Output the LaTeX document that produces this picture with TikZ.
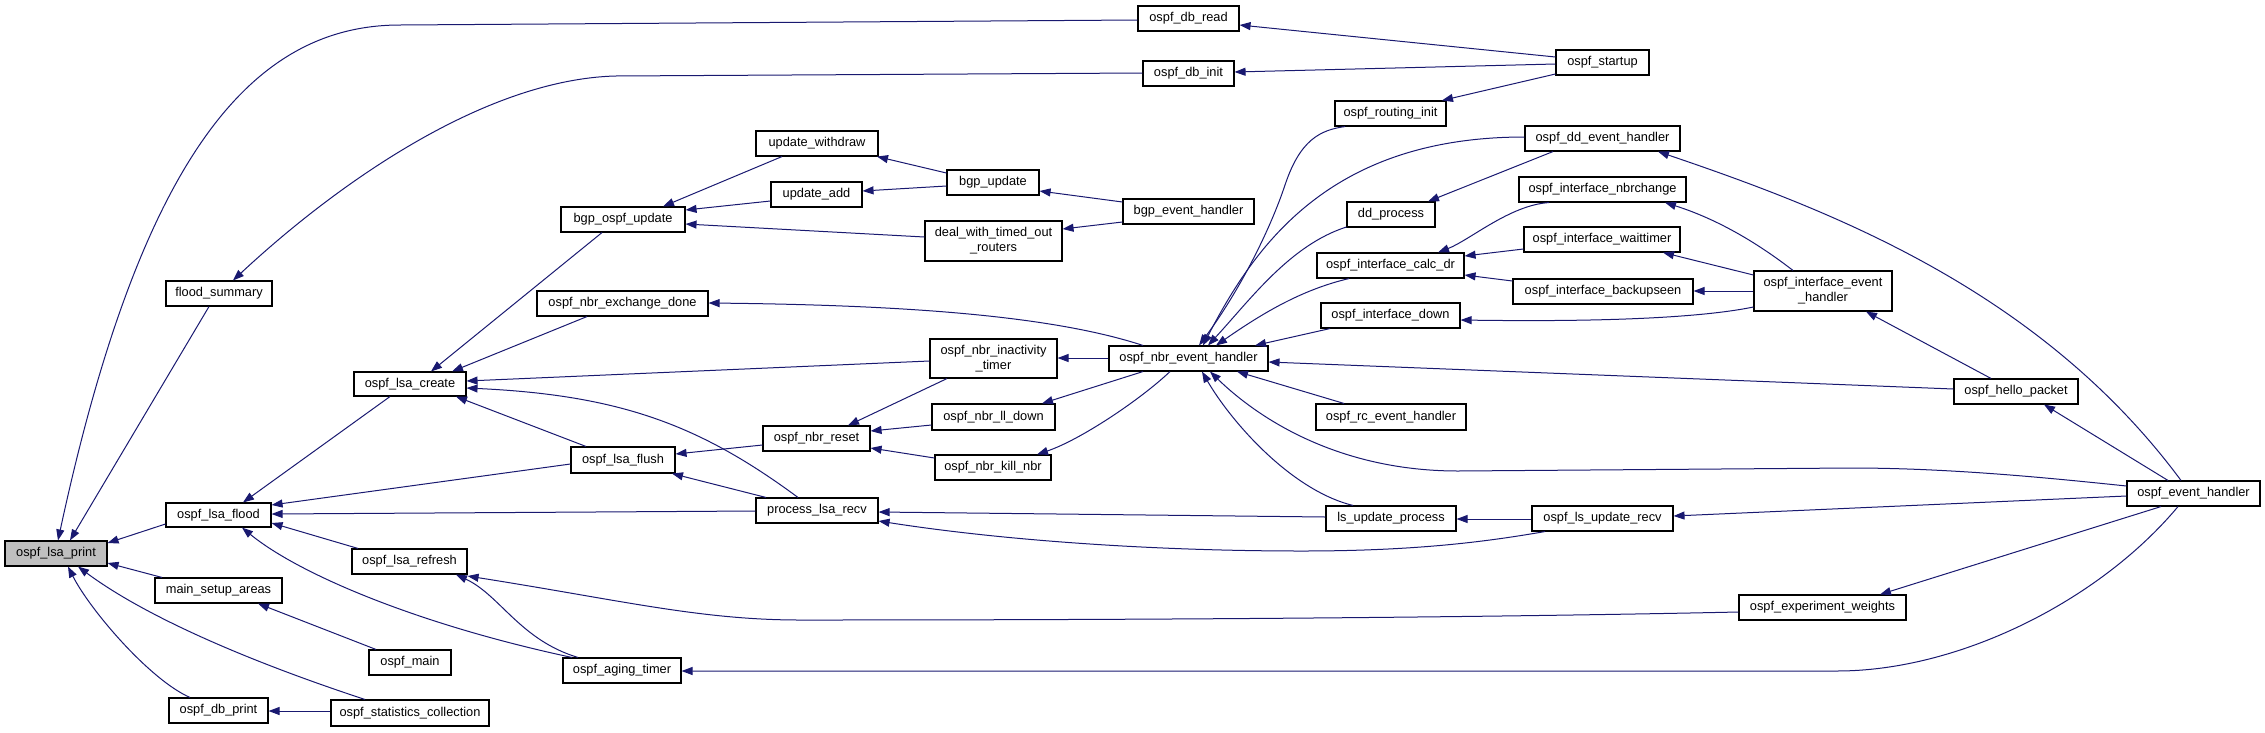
\documentclass[tikz,border=0pt]{standalone}
\usepackage{fontspec}
\setmainfont{Liberation Sans}
\usetikzlibrary{arrows.meta}
\definecolor{edgec}{RGB}{25,25,112}
\definecolor{hil}{RGB}{191,191,191}
\newcommand{\fbx}[7]{\node[fbox,#1,minimum width={(#5)-(#3)},minimum height={(#6)-(#4)}] (#2) at ({((#3)+(#5))/2},{((#4)+(#6))/2}) {#7};}
\begin{document}
\begin{tikzpicture}[x=1pt,y=-1pt,
  fbox/.style={draw=black, line width=1.1pt, fill=white, inner sep=0pt, align=center, font=\fontsize{12.8}{15}\selectfont},
  cl/.style={draw=edgec, line width=1pt, arrows={Triangle[length=11pt,width=8pt]-}}]
\useasboundingbox (0,0) rectangle (2265,732);
\fbx{fill=hil}{print}{5}{541}{107}{566}{ospf\_lsa\_print}
\fbx{}{flood}{166}{503}{271}{527}{ospf\_lsa\_flood}
\fbx{}{create}{354}{372}{466}{396}{ospf\_lsa\_create}
\fbx{}{refresh}{352}{549}{467}{574}{ospf\_lsa\_refresh}
\fbx{}{msa}{155}{578}{282}{603}{main\_setup\_areas}
\fbx{}{omain}{369}{650}{451}{675}{ospf\_main}
\fbx{}{dbprint}{169}{698}{268}{723}{ospf\_db\_print}
\fbx{}{stats}{331}{700}{489}{726}{ospf\_statistics\_collection}
\fbx{}{fsum}{166}{281}{272}{306}{flood\_summary}
\fbx{}{uwd}{756}{131}{878}{156}{update\_withdraw}
\fbx{}{bgpu}{947}{170}{1039}{195}{bgp\_update}
\fbx{}{uadd}{771}{182}{862}{207}{update\_add}
\fbx{}{bou}{561}{207}{685}{232}{bgp\_ospf\_update}
\fbx{}{deal}{925}{221}{1062}{261}{deal\_with\_timed\_out\\\_routers}
\fbx{}{nxd}{537}{291}{708}{316}{ospf\_nbr\_exchange\_done}
\fbx{}{nit}{930}{339}{1057}{378}{ospf\_nbr\_inactivity\\\_timer}
\fbx{}{dbread}{1138}{6}{1239}{31}{ospf\_db\_read}
\fbx{}{dbinit}{1143}{61}{1234}{86}{ospf\_db\_init}
\fbx{}{startup}{1556}{50}{1649}{75}{ospf\_startup}
\fbx{}{rinit}{1335}{101}{1446}{126}{ospf\_routing\_init}
\fbx{}{ddeh}{1525}{126}{1680}{151}{ospf\_dd\_event\_handler}
\fbx{}{bgpeh}{1123}{199}{1254}{224}{bgp\_event\_handler}
\fbx{}{inbr}{1519}{177}{1686}{202}{ospf\_interface\_nbrchange}
\fbx{}{ddp}{1347}{202}{1435}{227}{dd\_process}
\fbx{}{iwait}{1524}{227}{1680}{252}{ospf\_interface\_waittimer}
\fbx{}{icalc}{1317}{253}{1464}{278}{ospf\_interface\_calc\_dr}
\fbx{}{ibkp}{1513}{279}{1693}{304}{ospf\_interface\_backupseen}
\fbx{}{idown}{1321}{303}{1460}{328}{ospf\_interface\_down}
\fbx{}{neh}{1109}{346}{1268}{371}{ospf\_nbr\_event\_handler}
\fbx{}{ieh}{1754}{271}{1892}{311}{ospf\_interface\_event\\\_handler}
\fbx{}{lldown}{932}{404}{1055}{430}{ospf\_nbr\_ll\_down}
\fbx{}{reset}{763}{426}{870}{451}{ospf\_nbr\_reset}
\fbx{}{kill}{935}{455}{1051}{480}{ospf\_nbr\_kill\_nbr}
\fbx{}{flush}{571}{447}{675}{473}{ospf\_lsa\_flush}
\fbx{}{plr}{756}{498}{878}{523}{process\_lsa\_recv}
\fbx{}{aging}{563}{658}{681}{683}{ospf\_aging\_timer}
\fbx{}{rc}{1316}{404}{1466}{430}{ospf\_rc\_event\_handler}
\fbx{}{lsup}{1326}{506}{1456}{531}{ls\_update\_process}
\fbx{}{lsrecv}{1532}{506}{1673}{531}{ospf\_ls\_update\_recv}
\fbx{}{hello}{1954}{379}{2078}{404}{ospf\_hello\_packet}
\fbx{}{oeh}{2127}{481}{2260}{506}{ospf\_event\_handler}
\fbx{}{expw}{1739}{595}{1906}{620}{ospf\_experiment\_weights}
% edges (arrow tip at the callee)
\draw[cl] (print.north -| 58,0) .. controls (140,160) and (250,25) .. (400,25) -- (dbread.west |- 0,20);
\draw[cl] (print.north -| 70,0) -- (fsum.south -| 209,0);
\draw[cl] (fsum.north -| 233,0) .. controls (330,190) and (480,80) .. (615,76) -- (dbinit.west |- 0,73);
\draw[cl] (print.east |- 0,543) -- (flood.west |- 0,524);
\draw[cl] (print.east |- 0,563) -- (msa.north -| 162,0);
\draw[cl] (print.south -| 68,0) .. controls (90,610) and (150,680) .. (dbprint.north -| 190,0);
\draw[cl] (print.south -| 78,0) .. controls (150,620) and (260,665) .. (stats.north -| 365,0);
\draw[cl] (dbprint.east |- 0,711) -- (stats.west |- 0,711);
\draw[cl] (msa.south -| 258,0) -- (omain.north -| 376,0);
\draw[cl] (flood.north -| 243,0) -- (create.south -| 390,0);
\draw[cl] (flood.east |- 0,505) -- (flush.west |- 0,464);
\draw[cl] (flood.east |- 0,514) -- (plr.west |- 0,511);
\draw[cl] (flood.east |- 0,523) -- (refresh.north -| 358,0);
\draw[cl] (flood.south -| 242,0) .. controls (300,575) and (420,625) .. (aging.north -| 572,0);
\draw[cl] (refresh.south -| 456,0) .. controls (500,595) and (520,640) .. (aging.north -| 578,0);
\draw[cl] (refresh.east |- 0,576) .. controls (620,600) and (700,620) .. (800,620) .. controls (1300,620) and (1600,615) .. (expw.west |- 0,612);
\draw[cl] (create.north -| 431,0) -- (bou.south -| 602,0);
\draw[cl] (create.north -| 452,0) -- (nxd.south -| 587,0);
\draw[cl] (create.east |- 0,381) -- (nit.west |- 0,361);
\draw[cl] (create.east |- 0,388) .. controls (620,395) and (700,425) .. (plr.north -| 798,0);
\draw[cl] (create.south -| 456,0) -- (flush.north -| 586,0);
\draw[cl] (flush.east |- 0,454) -- (reset.west |- 0,445);
\draw[cl] (flush.south -| 672,0) -- (plr.north -| 766,0);
\draw[cl] (reset.north -| 848,0) -- (nit.south -| 947,0);
\draw[cl] (reset.east |- 0,431) -- (lldown.west |- 0,425);
\draw[cl] (reset.east |- 0,448) -- (kill.west |- 0,458);
\draw[cl] (plr.east |- 0,512) -- (lsup.west |- 0,517);
\draw[cl] (plr.east |- 0,521) .. controls (1000,540) and (1150,551) .. (1302,551) .. controls (1420,551) and (1490,541) .. (lsrecv.south -| 1545,0);
\draw[cl] (lsup.east |- 0,519) -- (lsrecv.west |- 0,519);
\draw[cl] (lsrecv.east |- 0,516) -- (oeh.west |- 0,496);
\draw[cl] (aging.east |- 0,671) -- (1837,671) .. controls (1960,671) and (2100,600) .. (oeh.south -| 2178,0);
\draw[cl] (expw.north -| 1880,0) -- (oeh.south -| 2161,0);
\draw[cl] (hello.south -| 2044,0) -- (oeh.north -| 2168,0);
\draw[cl] (ieh.south -| 1866,0) -- (hello.north -| 1991,0);
\draw[cl] (ddeh.south -| 1658,0) .. controls (1830,210) and (2040,290) .. (oeh.north -| 2181,0);
\draw[cl] (neh.south -| 1210,0) .. controls (1260,420) and (1340,471) .. (1458,471) -- (1851,468) .. controls (1950,468) and (2050,478) .. (oeh.west |- 0,486);
\draw[cl] (neh.south -| 1202,0) .. controls (1230,420) and (1290,490) .. (lsup.north -| 1353,0);
\draw[cl] (neh.south -| 1237,0) -- (rc.north -| 1344,0);
\draw[cl] (neh.east |- 0,362) -- (hello.west |- 0,389);
\draw[cl] (neh.north -| 1255,0) -- (idown.south -| 1330,0);
\draw[cl] (neh.north -| 1216,0) .. controls (1260,315) and (1300,290) .. (icalc.south -| 1349,0);
\draw[cl] (neh.north -| 1208,0) .. controls (1250,300) and (1290,245) .. (ddp.west |- 0,227);
\draw[cl] (neh.north -| 1203,0) .. controls (1255,245) and (1330,137) .. (ddeh.west |- 0,137);
\draw[cl] (neh.north -| 1199,0) .. controls (1240,290) and (1270,230) .. (1285,185) .. controls (1300,140) and (1320,130) .. (rinit.south -| 1345,0);
\draw[cl] (nxd.east |- 0,303) .. controls (900,305) and (1050,315) .. (neh.north -| 1143,0);
\draw[cl] (nit.east |- 0,358) -- (neh.west |- 0,358);
\draw[cl] (lldown.north -| 1042,0) -- (neh.south -| 1143,0);
\draw[cl] (kill.north -| 1037,0) .. controls (1080,440) and (1140,400) .. (neh.south -| 1170,0);
\draw[cl] (bou.north -| 663,0) -- (uwd.south -| 782,0);
\draw[cl] (bou.east |- 0,210) -- (uadd.west |- 0,201);
\draw[cl] (bou.east |- 0,224) -- (deal.west |- 0,237);
\draw[cl] (uwd.south -| 877,0) -- (bgpu.west |- 0,173);
\draw[cl] (uadd.east |- 0,191) -- (bgpu.west |- 0,186);
\draw[cl] (bgpu.east |- 0,191) -- (bgpeh.west |- 0,202);
\draw[cl] (deal.east |- 0,229) -- (bgpeh.west |- 0,222);
\draw[cl] (dbread.east |- 0,25) -- (startup.west |- 0,57);
\draw[cl] (dbinit.east |- 0,72) -- (startup.west |- 0,64);
\draw[cl] (rinit.north -| 1442,0) -- (startup.west |- 0,74);
\draw[cl] (ddp.north -| 1428,0) -- (ddeh.south -| 1553,0);
\draw[cl] (icalc.north -| 1438,0) .. controls (1470,240) and (1510,205) .. (inbr.south -| 1549,0);
\draw[cl] (icalc.east |- 0,256) -- (iwait.west |- 0,249);
\draw[cl] (icalc.east |- 0,275) -- (ibkp.west |- 0,281);
\draw[cl] (inbr.south -| 1665,0) .. controls (1720,220) and (1760,245) .. (ieh.north -| 1793,0);
\draw[cl] (iwait.south -| 1663,0) -- (ieh.west |- 0,275);
\draw[cl] (ibkp.east |- 0,291) -- (ieh.west |- 0,291);
\draw[cl] (idown.east |- 0,320) .. controls (1600,322) and (1700,318) .. (ieh.west |- 0,307);
\end{tikzpicture}
\end{document}
